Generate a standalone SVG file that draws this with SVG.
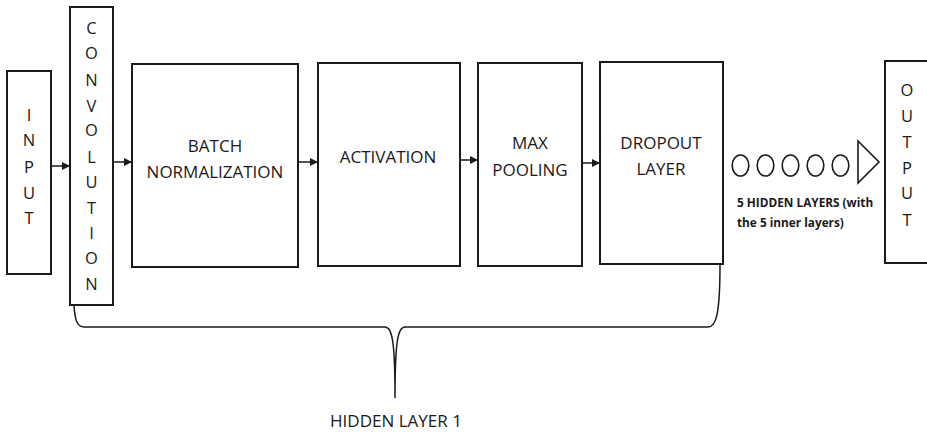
<svg xmlns="http://www.w3.org/2000/svg" width="927" height="432" viewBox="0 0 927 432">
<style>
.box{fill:#fff;stroke:#1a1a1a;stroke-width:2}
.t{font-family:"Open Sans","Liberation Sans",sans-serif;font-size:17px;fill:#1a1a1a;text-anchor:middle}
.v{font-family:"Open Sans","Liberation Sans",sans-serif;font-size:16.5px;fill:#1a1a1a;text-anchor:middle}
.b{font-family:"Open Sans","Liberation Sans",sans-serif;font-size:11.8px;font-weight:bold;fill:#1a1a1a}
.c{fill:none;stroke:#1a1a1a;stroke-width:1.5}
.e{fill:none;stroke:#1a1a1a;stroke-width:1.6}
</style>
<defs>
<marker id="ah" viewBox="0 0 10 10" refX="10" refY="5" markerWidth="8" markerHeight="8" markerUnits="userSpaceOnUse" orient="auto">
<path d="M0,0 L10,5 L0,10 z" fill="#1a1a1a"/>
</marker>
</defs>
<rect width="927" height="432" fill="#fff"/>
<g id="input">
<rect class="box" x="7" y="71" width="44" height="203"/>
<text class="v" x="29" y="121">I</text>
<text class="v" x="29" y="146">N</text>
<text class="v" x="29" y="173">P</text>
<text class="v" x="29" y="199">U</text>
<text class="v" x="29" y="224">T</text>
</g>
<g id="convolution">
<rect class="box" x="70" y="7" width="43" height="298"/>
<text class="v" x="91.5" y="34">C</text>
<text class="v" x="91.5" y="59">O</text>
<text class="v" x="91.5" y="86">N</text>
<text class="v" x="91.5" y="112">V</text>
<text class="v" x="91.5" y="136">O</text>
<text class="v" x="91.5" y="163">L</text>
<text class="v" x="91.5" y="188">U</text>
<text class="v" x="91.5" y="214">T</text>
<text class="v" x="91.5" y="239">I</text>
<text class="v" x="91.5" y="264">O</text>
<text class="v" x="91.5" y="290">N</text>
</g>
<g id="batch">
<rect class="box" x="132" y="64" width="166" height="203"/>
<text class="t" x="215" y="152">BATCH</text>
<text class="t" x="215" y="178">NORMALIZATION</text>
</g>
<g id="activation">
<rect class="box" x="318" y="63" width="142" height="203"/>
<text class="t" x="388" y="163">ACTIVATION</text>
</g>
<g id="maxpooling">
<rect class="box" x="478" y="63" width="104" height="203"/>
<text class="t" x="530" y="149">MAX</text>
<text class="t" x="530" y="176">POOLING</text>
</g>
<g id="dropout">
<rect class="box" x="600" y="62" width="123" height="202"/>
<text class="t" x="661" y="149">DROPOUT</text>
<text class="t" x="661" y="175">LAYER</text>
</g>
<g id="hidden5">
<ellipse class="e" cx="740.5" cy="165.5" rx="8.3" ry="10.5"/>
<ellipse class="e" cx="765.5" cy="165.5" rx="8.3" ry="10.5"/>
<ellipse class="e" cx="790.5" cy="165.5" rx="8.3" ry="10.5"/>
<ellipse class="e" cx="815.5" cy="165.5" rx="8.3" ry="10.5"/>
<ellipse class="e" cx="840.5" cy="165.5" rx="8.3" ry="10.5"/>
<path class="e" d="M858,141 L879,162 L858,183 Z"/>
<text class="b" x="737" y="207">5 HIDDEN LAYERS (with</text>
<text class="b" x="737" y="227">the 5 inner layers)</text>
</g>
<g id="output">
<rect class="box" x="885" y="61" width="50" height="202"/>
<text class="v" x="907" y="96">O</text>
<text class="v" x="907" y="122">U</text>
<text class="v" x="907" y="148">T</text>
<text class="v" x="907" y="174">P</text>
<text class="v" x="907" y="199">U</text>
<text class="v" x="907" y="226">T</text>
</g>
<g id="connectors">
<line class="c" x1="52" y1="166" x2="70" y2="166" marker-end="url(#ah)"/>
<line class="c" x1="113" y1="162" x2="132" y2="162" marker-end="url(#ah)"/>
<line class="c" x1="298" y1="162" x2="318" y2="162" marker-end="url(#ah)"/>
<line class="c" x1="460" y1="160" x2="478" y2="160" marker-end="url(#ah)"/>
<line class="c" x1="582" y1="163" x2="600" y2="163" marker-end="url(#ah)"/>
<path class="c" d="M74,306 C75,320 77,327 84,327 L385,327 C392,327 395,340 395,398 C395,340 398,327 405,327 L708,327 C716,327 720,315 720,264"/>
</g>
<text id="hidden1" class="t" x="396" y="427">HIDDEN LAYER 1</text>
</svg>
